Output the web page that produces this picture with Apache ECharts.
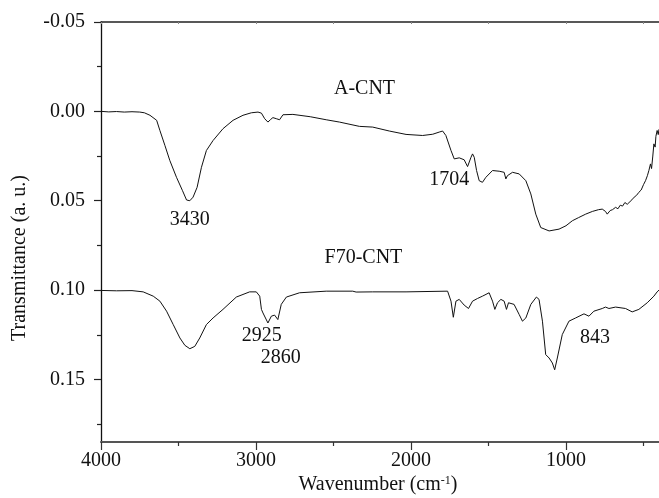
<!DOCTYPE html>
<html>
<head>
<meta charset="utf-8">
<script src="https://cdn.jsdelivr.net/npm/echarts@6/dist/echarts.min.js"></script>
<style>
  html, body { margin: 0; padding: 0; background: #fff; }
  #chart { width: 659px; height: 498px; }
</style>
</head>
<body>
<div id="chart"></div>
<script>
// A-CNT spectrum (wavenumber, transmittance)
const aCntWave = [4000, 3950, 3900, 3850, 3800, 3750, 3720, 3684, 3641, 3620, 3588, 3556, 3513, 3474, 3448, 3427, 3406, 3380, 3352, 3320, 3277, 3213, 3148, 3084, 3030, 2987, 2965, 2944, 2923, 2905, 2891, 2869, 2848, 2826, 2762, 2650, 2547, 2461, 2333, 2247, 2140, 2032, 1925, 1860, 1818, 1796, 1775, 1742, 1721, 1689, 1657, 1635, 1613, 1603, 1592, 1577, 1560, 1539, 1517, 1474, 1431, 1399, 1388, 1378, 1345, 1302, 1259, 1227, 1195, 1163, 1109, 1045, 1000, 959, 920, 873, 830, 790, 766, 745, 734, 715, 700, 680, 665, 650, 635, 620, 605, 594, 575, 560, 545, 530, 515, 500, 487, 475, 465, 455, 448, 440, 433, 425, 420, 412, 405, 400]
const aCntT = [0.0000, 0.0003, 0.0001, 0.0004, 0.0002, 0.0004, 0.0008, 0.0022, 0.0050, 0.0107, 0.0190, 0.0275, 0.0369, 0.0444, 0.0496, 0.0500, 0.0480, 0.0425, 0.0313, 0.0219, 0.0163, 0.0097, 0.0050, 0.0022, 0.0008, 0.0004, 0.0010, 0.0041, 0.0060, 0.0045, 0.0035, 0.0041, 0.0047, 0.0019, 0.0017, 0.0030, 0.0047, 0.0060, 0.0084, 0.0088, 0.0110, 0.0129, 0.0135, 0.0128, 0.0116, 0.0110, 0.0135, 0.0219, 0.0266, 0.0260, 0.0271, 0.0309, 0.0257, 0.0238, 0.0257, 0.0331, 0.0388, 0.0397, 0.0369, 0.0331, 0.0335, 0.0341, 0.0378, 0.0360, 0.0341, 0.0350, 0.0388, 0.0462, 0.0575, 0.0650, 0.0669, 0.0659, 0.0640, 0.0612, 0.0595, 0.0575, 0.0560, 0.0550, 0.0547, 0.0560, 0.0575, 0.0555, 0.0550, 0.0537, 0.0545, 0.0525, 0.0530, 0.0510, 0.0520, 0.0510, 0.0495, 0.0480, 0.0470, 0.0453, 0.0440, 0.0410, 0.0388, 0.0360, 0.0330, 0.0294, 0.0320, 0.0250, 0.0182, 0.0200, 0.0140, 0.0107, 0.0130, 0.0100]

// F70-CNT spectrum
const f70Wave = [4000, 3900, 3800, 3728, 3663, 3620, 3577, 3534, 3491, 3459, 3427, 3395, 3363, 3320, 3277, 3213, 3127, 3041, 2998, 2976, 2965, 2955, 2944, 2923, 2901, 2880, 2859, 2837, 2804, 2719, 2547, 2376, 2354, 2247, 2032, 1764, 1742, 1727, 1710, 1689, 1657, 1629, 1603, 1571, 1539, 1496, 1474, 1459, 1442, 1420, 1399, 1384, 1371, 1335, 1302, 1281, 1259, 1227, 1191, 1174, 1152, 1131, 1109, 1088, 1073, 1056, 1024, 981, 938, 884, 852, 820, 766, 745, 723, 680, 616, 573, 530, 476, 433, 412, 400]
const f70T = [0.1002, 0.1004, 0.1003, 0.1010, 0.1034, 0.1062, 0.1118, 0.1193, 0.1268, 0.1309, 0.1328, 0.1315, 0.1268, 0.1193, 0.1156, 0.1108, 0.1039, 0.1010, 0.1010, 0.1034, 0.1108, 0.1128, 0.1118, 0.1184, 0.1146, 0.1140, 0.1165, 0.1080, 0.1039, 0.1015, 0.1006, 0.1006, 0.1011, 0.1010, 0.1010, 0.1006, 0.1062, 0.1152, 0.1062, 0.1052, 0.1084, 0.1103, 0.1062, 0.1047, 0.1034, 0.1015, 0.1062, 0.1108, 0.1071, 0.1052, 0.1062, 0.1108, 0.1071, 0.1080, 0.1137, 0.1174, 0.1156, 0.1080, 0.1039, 0.1052, 0.1174, 0.1361, 0.1380, 0.1408, 0.1446, 0.1380, 0.1249, 0.1174, 0.1156, 0.1133, 0.1146, 0.1118, 0.1103, 0.1095, 0.1103, 0.1095, 0.1103, 0.1122, 0.1108, 0.1071, 0.1034, 0.1010, 0.1000]

// text labels on the plot, placed in data coordinates
const noteText = ['A-CNT', '3430', '1704', 'F70-CNT', '2925', '2860', '843']
const noteWave = [2300, 3427, 1753, 2307, 2963, 2841, 813]
const noteT = [-0.0129, 0.0607, 0.0382, 0.082, 0.1258, 0.1376, 0.1264]

// ticks
const xMajor = [4000, 3000, 2000, 1000]
const xMinor = [3500, 2500, 1500, 500]
const xTop = [4000, 3500, 3000, 2500, 2000, 1500, 1000, 500]
const yMajor = [-0.05, 0, 0.05, 0.1, 0.15]
const yMinor = [-0.025, 0.025, 0.075, 0.125, 0.175]

const FONT = 'Liberation Serif'

const zip = (xs, ys) => xs.map((x, i) => [x, ys[i]])

const chart = echarts.init(document.getElementById('chart'))

const xBase = { type: 'value', min: 400, max: 4000, inverse: true, splitLine: { show: false } }
const yBase = { type: 'value', min: -0.05, max: 0.185, inverse: true, splitLine: { show: false } }

const option = {
  animation: false,
  backgroundColor: '#fff',
  grid: { left: 101, right: -1, top: 22, bottom: 56 },
  xAxis: [
    Object.assign({}, xBase, {
      position: 'bottom',
      axisLine: { onZero: false, lineStyle: { color: '#555', width: 2 } },
      axisTick: { customValues: xMajor, length: 8, lineStyle: { color: '#333', width: 1.2 } },
      axisLabel: {
        customValues: xMajor, margin: 9, color: '#111', fontFamily: FONT, fontSize: 20,
        formatter: v => String(v)
      }
    }),
    Object.assign({}, xBase, {
      position: 'bottom',
      axisLine: { show: false, onZero: false },
      axisTick: { customValues: xMinor, length: 4, lineStyle: { color: '#333', width: 1.2 } },
      axisLabel: { show: false }
    }),
    Object.assign({}, xBase, {
      position: 'top',
      axisLine: { onZero: false, lineStyle: { color: '#222', width: 1.5 } },
      axisTick: { customValues: xTop, inside: true, length: 2, lineStyle: { color: '#888' } },
      axisLabel: { show: false }
    })
  ],
  yAxis: [
    Object.assign({}, yBase, {
      position: 'left',
      axisLine: { onZero: false, lineStyle: { color: '#111', width: 1.3 } },
      axisTick: { customValues: yMajor, length: 7, lineStyle: { color: '#222', width: 1.2 } },
      axisLabel: {
        customValues: yMajor, margin: 16, color: '#111', fontFamily: FONT, fontSize: 20,
        formatter: v => v.toFixed(2)
      }
    }),
    Object.assign({}, yBase, {
      position: 'left',
      axisLine: { show: false, onZero: false },
      axisTick: { customValues: yMinor, length: 4, lineStyle: { color: '#222', width: 1.2 } },
      axisLabel: { show: false }
    })
  ],
  series: [
    {
      name: 'A-CNT', type: 'line', data: zip(aCntWave, aCntT),
      showSymbol: false, symbol: 'none',
      lineStyle: { color: '#111', width: 1 }
    },
    {
      name: 'F70-CNT', type: 'line', data: zip(f70Wave, f70T),
      showSymbol: false, symbol: 'none',
      lineStyle: { color: '#111', width: 1 }
    },
    {
      type: 'scatter', silent: true, symbolSize: 0,
      itemStyle: { color: '#111', opacity: 1 },
      data: noteText.map((t, i) => ({ name: t, value: [noteWave[i], noteT[i]] })),
      label: {
        show: true, position: 'inside', formatter: p => p.name,
        color: '#111', opacity: 1, fontFamily: FONT, fontSize: 20,
        textBorderWidth: 0, textBorderColor: 'transparent'
      }
    }
  ],
  graphic: [
    {
      type: 'text', rotation: Math.PI / 2,
      x: 20, y: 258,
      style: {
        text: 'Transmittance (a. u.)', fill: '#111', font: '20px "Liberation Serif"',
        align: 'center', verticalAlign: 'middle'
      }
    },
    {
      type: 'text', x: 378, y: 485,
      style: {
        text: 'Wavenumber (cm{sup|-1})', fill: '#111', font: '20px "Liberation Serif"',
        align: 'center', verticalAlign: 'middle',
        rich: { sup: { fontSize: 12, fontFamily: FONT, verticalAlign: 'top', fill: '#111' } }
      }
    }
  ]
}

chart.setOption(option)
</script>
</body>
</html>
